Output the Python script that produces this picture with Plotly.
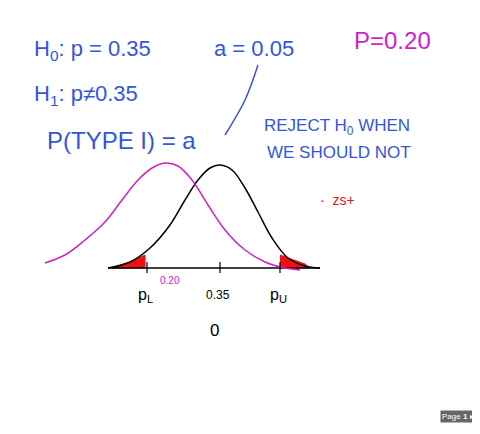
import plotly.graph_objects as go

# curves (x, y in picture units, y downward)
black_x = [108,130,150,170,185,198,210,220,232,245,258,272,288,305,320]
black_y = [268,262,248,225,200,180,168,165,170,188,212,238,258,266,268]
mag_x = [45,65,85,105,122,138,152,165,178,192,208,225,245,265,285,300]
mag_y = [263,255,240,222,200,180,168,163,166,180,205,230,250,262,268,270]
axis_x = [108,320]
axis_y = [268,268]
tail_l_x = [112,130,145,145,112]
tail_l_y = [268,262,255,268,268]
tail_r_x = [280,288,305,310,280]
tail_r_y = [255,258,264,268,268]
tick_x = [147,220,280]

blue = "#3355dd"; mag = "#cc22cc"; red = "#ee1111"
fig = go.Figure()
fig.add_trace(go.Scatter(x=tail_l_x, y=tail_l_y, fill="toself", fillcolor=red, line=dict(color=red, width=1), mode="lines"))
fig.add_trace(go.Scatter(x=tail_r_x, y=tail_r_y, fill="toself", fillcolor=red, line=dict(color=red, width=1), mode="lines"))
fig.add_trace(go.Scatter(x=axis_x, y=axis_y, mode="lines", line=dict(color="black", width=1.5)))
fig.add_trace(go.Scatter(x=black_x, y=black_y, mode="lines", line=dict(color="black", width=1.5, shape="spline")))
fig.add_trace(go.Scatter(x=mag_x, y=mag_y, mode="lines", line=dict(color=mag, width=1.5, shape="spline")))
for tx in tick_x:
    fig.add_trace(go.Scatter(x=[tx, tx], y=[262, 273], mode="lines", line=dict(color="black", width=1.2)))
fig.add_trace(go.Scatter(x=[225, 245, 258], y=[135, 100, 65], mode="lines", line=dict(color=blue, width=1.5, shape="spline")))

F = "Liberation Sans"
def t(x, y, s, c, sz):
    fig.add_annotation(x=x, y=y, text=s, showarrow=False, font=dict(family=F, size=sz, color=c), xanchor="left")
t(32, 50, "H<sub>0</sub>: p = 0.35", blue, 22)
t(212, 48, "a = 0.05", blue, 22)
t(32, 95, "H<sub>1</sub>: p≠0.35", blue, 22)
t(45, 140, "P(TYPE I) = a", blue, 24)
t(262, 127, "REJECT H<sub>0</sub> WHEN", blue, 17)
t(265, 152, "WE SHOULD NOT", blue, 17)
t(352, 40, "P=0.20", mag, 24)
t(318, 200, "·  zs+", red, 14)
t(136, 295, "p<sub>L</sub>", "black", 16)
t(158, 280, "0.20", mag, 10)
t(204, 295, "0.35", "black", 12)
t(268, 295, "p<sub>U</sub>", "black", 16)
t(208, 330, "0", "black", 17)
fig.add_annotation(x=458, y=416, text="Page <b>1</b> ▸", showarrow=False, bgcolor="#666",
                   font=dict(family=F, size=8, color="white"))

fig.update_layout(width=480, height=434, margin=dict(l=0, r=0, t=0, b=0),
                  plot_bgcolor="white", paper_bgcolor="white", showlegend=False,
                  xaxis=dict(range=[8, 488], visible=False),
                  yaxis=dict(range=[442, 8], visible=False))
fig.write_html("out.html")
